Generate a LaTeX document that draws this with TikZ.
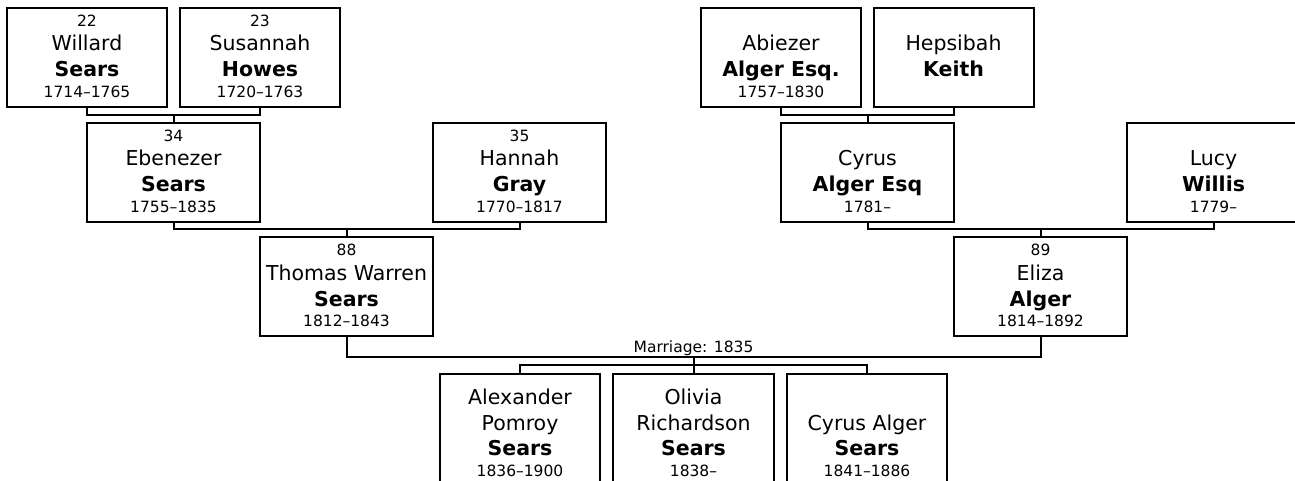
\documentclass[tikz,border=0pt]{standalone}
\usepackage{fontspec}
\setmainfont{DejaVu Sans}
\newcommand\nmf{\fontsize{20.5}{24}\selectfont}
\newcommand\bdf{\fontsize{20.5}{24}\selectfont\bfseries}
\newcommand\smf{\fontsize{15.5}{18}\selectfont}
% one text line: #1 = distance from previous baseline (pt), #2 = content
\newcommand\pl[2]{\hbox to\hsize{\hss\smash{#2}\hss\vrule width0pt height#1pt depth0pt}}
% parent box: width, number, first name, surname, dates
\newcommand\parentbox[5]{\vbox{\offinterlineskip\hsize=#1pt
  \pl{18.5}{\smf #2}\pl{24.5}{\nmf #3}\pl{26}{\bdf #4}\pl{20.5}{\smf #5}\pl{9.5}{}}}
% child box: width, line1, line2, surname, dates
\newcommand\childbox[5]{\vbox{\offinterlineskip\hsize=#1pt
  \pl{30.5}{\nmf #2}\pl{26}{\nmf #3}\pl{25.5}{\bdf #4}\pl{21}{\smf #5}\pl{17}{}}}
\begin{document}
\begin{tikzpicture}[x=1pt,y=-1pt,
  person/.style={draw=black,line width=2pt,inner sep=0pt,outer sep=0pt,fill=white},
  link/.style={draw=black,line width=2pt}]
\useasboundingbox (0,0) rectangle (1295,480);
\clip (0,0) rectangle (1295,480);
% row 1
\node[person] (willard)  at (87,57)    {\parentbox{160}{22}{Willard}{Sears}{1714–1765}};
\node[person] (susannah) at (260,57)   {\parentbox{160}{23}{Susannah}{Howes}{1720–1763}};
\node[person] (abiezer)  at (781,57)   {\parentbox{160}{}{Abiezer}{Alger Esq.}{1757–1830}};
\node[person] (hepsibah) at (953.5,57) {\parentbox{160}{}{Hepsibah}{Keith}{}};
% row 2
\node[person] (ebenezer) at (173.5,172) {\parentbox{173}{34}{Ebenezer}{Sears}{1755–1835}};
\node[person] (hannah)   at (519.5,172) {\parentbox{173}{35}{Hannah}{Gray}{1770–1817}};
\node[person] (cyrus)    at (867.5,172) {\parentbox{173}{}{Cyrus}{Alger Esq}{1781–}};
\node[person] (lucy)     at (1213.5,172){\parentbox{173}{}{Lucy}{Willis}{1779–}};
% row 3
\node[person] (thomas) at (346.5,286.5)  {\parentbox{173}{88}{Thomas Warren}{Sears}{1812–1843}};
\node[person] (eliza)  at (1040.5,286.5) {\parentbox{173}{89}{Eliza}{Alger}{1814–1892}};
% children
\node[person] (alexander)  at (520,433.5)   {\childbox{160}{Alexander}{Pomroy}{Sears}{1836–1900}};
\node[person] (olivia)     at (693.5,433.5) {\childbox{161}{Olivia}{Richardson}{Sears}{1838–}};
\node[person] (cyrusalger) at (867,433.5)   {\childbox{160}{}{Cyrus Alger}{Sears}{1841–1886}};
% connectors
\draw[link] (willard.south) -- ++(0,8.5) -| (susannah.south);
\draw[link] (ebenezer.north) -- ++(0,-7.5);
\draw[link] (abiezer.south) -- ++(0,8.5) -| (hepsibah.south);
\draw[link] (cyrus.north) -- ++(0,-7.5);
\draw[link] (ebenezer.south) -- ++(0,7.5) -| (hannah.south);
\draw[link] (thomas.north) -- ++(0,-8);
\draw[link] (cyrus.south) -- ++(0,7.5) -| (lucy.south);
\draw[link] (eliza.north) -- ++(0,-8);
\draw[link] (thomas.south) -- ++(0,20.5) -| (eliza.south);
\node[anchor=base,inner sep=0pt] (marriage) at (693.5,352) {\smf Marriage: 1835};
\draw[link] (olivia.north) -- ++(0,-16.5);
\draw[link] (alexander.north) -- ++(0,-8.5) -| (cyrusalger.north);
\end{tikzpicture}
\end{document}
